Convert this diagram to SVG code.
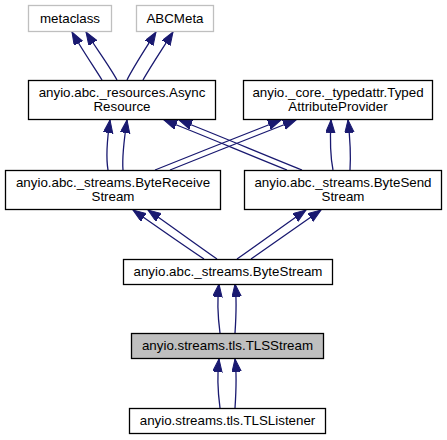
<svg xmlns="http://www.w3.org/2000/svg" width="447" height="440" viewBox="0 0 447 440">
<defs>
<style>
.node rect{fill:#ffffff;stroke:#000000;stroke-width:1.3}
.node.ext rect{stroke:#bfbfbf}
.node.cur rect{fill:#bfbfbf}
.node text{font-family:"Liberation Sans",Arial,sans-serif;font-size:13.33px;fill:#000000;text-anchor:middle}
.edges path{fill:none;stroke:#191970;stroke-width:1.3;marker-end:url(#arr)}
</style>
<marker id="arr" markerUnits="userSpaceOnUse" markerWidth="15" markerHeight="11" refX="13" refY="4.75" orient="auto">
<path d="M0,0 L13,4.75 L0,9.5 z" fill="#191970" stroke="#191970" stroke-width="1"/>
</marker>
</defs>
<rect width="447" height="440" fill="#ffffff"/>
<g class="edges" id="edges">
<path d="M102,80 C94,67 81,48 72,32"/>
<path d="M117,80 C110,67 96,48 86,32"/>
<path d="M127,80 C134,66 146,48 156,32"/>
<path d="M143,80 C151,66 163,48 173,32"/>
<path d="M108,170 C106,158 107,140 110,120"/>
<path d="M123,170 C122,158 124,140 127,120"/>
<path d="M155,170 C195,154 245,134 281,120"/>
<path d="M170,170 C210,154 260,134 296,120"/>
<path d="M287,170 C247,154 200,134 164,120"/>
<path d="M302,170 C262,154 215,134 179,120"/>
<path d="M333,170 C330,155 330,138 331,120"/>
<path d="M350,170 C351,155 350,138 348,120"/>
<path d="M204,259 C180,243 156,226 133,210"/>
<path d="M217,259 C194,243 171,226 148,210"/>
<path d="M237,259 C260,243 283,226 306,210"/>
<path d="M251,259 C274,243 298,226 321,210"/>
<path d="M220,333 C218,318 217,300 219,284"/>
<path d="M235,333 C236,318 237,300 235,284"/>
<path d="M220,408 C218,393 217,375 219,359"/>
<path d="M235,408 C236,393 237,375 235,359"/>
</g>
<g class="node ext" id="metaclass">
<rect x="28.5" y="5.5" width="83" height="26"/>
<text x="70" y="23">metaclass</text>
</g>
<g class="node ext" id="ABCMeta">
<rect x="136.5" y="5.5" width="77" height="26"/>
<text x="175" y="23">ABCMeta</text>
</g>
<g class="node" id="AsyncResource">
<rect x="28.5" y="80.5" width="187" height="39"/>
<text x="122" y="97">anyio.abc._resources.Async</text>
<text x="122" y="111">Resource</text>
</g>
<g class="node" id="TypedAttributeProvider">
<rect x="243.5" y="80.5" width="189" height="39"/>
<text x="338" y="97">anyio._core._typedattr.Typed</text>
<text x="338" y="111">AttributeProvider</text>
</g>
<g class="node" id="ByteReceiveStream">
<rect x="5.5" y="170.5" width="215" height="39"/>
<text x="113" y="187">anyio.abc._streams.ByteReceive</text>
<text x="113" y="201">Stream</text>
</g>
<g class="node" id="ByteSendStream">
<rect x="244.5" y="170.5" width="197" height="39"/>
<text x="343" y="187">anyio.abc._streams.ByteSend</text>
<text x="343" y="201">Stream</text>
</g>
<g class="node" id="ByteStream">
<rect x="123.5" y="259.5" width="209" height="25"/>
<text x="228" y="276">anyio.abc._streams.ByteStream</text>
</g>
<g class="node cur" id="TLSStream">
<rect x="131.5" y="333.5" width="192" height="25"/>
<text x="227.5" y="350">anyio.streams.tls.TLSStream</text>
</g>
<g class="node" id="TLSListener">
<rect x="129.5" y="408.5" width="196" height="25"/>
<text x="227.5" y="425">anyio.streams.tls.TLSListener</text>
</g>
</svg>
